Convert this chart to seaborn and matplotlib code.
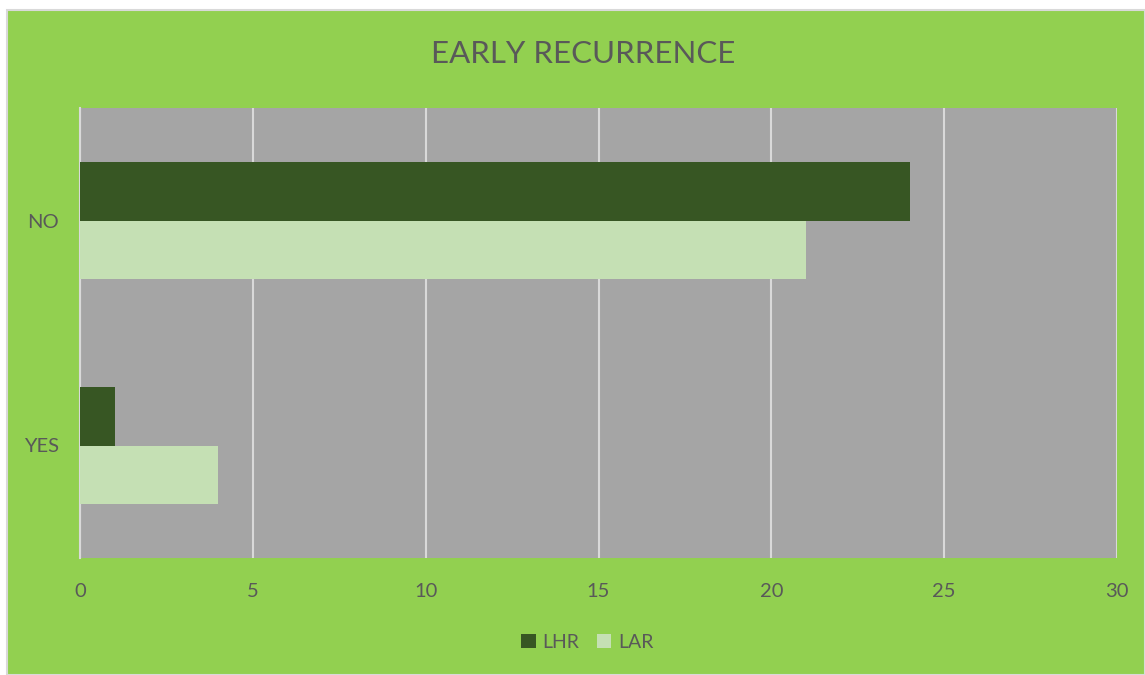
import pandas as pd
import matplotlib.pyplot as plt
import matplotlib.patches as mpatches
import seaborn as sns

# data
answers = ["NO", "YES"]
series = ["LHR", "LAR"]
lhr_counts = [24, 1]
lar_counts = [21, 4]
x_ticks = [0, 5, 10, 15, 20, 25, 30]

df = pd.DataFrame({
    "answer": answers * 2,
    "group": [series[0]] * 2 + [series[1]] * 2,
    "count": lhr_counts + lar_counts,
})

green_bg = "#92D050"
plot_bg = "#A5A5A5"
text_col = "#595959"
palette = {"LHR": "#375623", "LAR": "#C5E0B4"}

sns.set_style("white")
plt.rcParams['font.family'] = ['Lato', 'DejaVu Sans']

fig = plt.figure(figsize=(11.45, 6.75), dpi=100, facecolor="white")
# green chart area with thin grey border, as in the spreadsheet export
fig.patches.append(mpatches.Rectangle((7 / 1145, 0), 1 - 7 / 1145, 1 - 10 / 675,
                                      transform=fig.transFigure, facecolor=green_bg,
                                      edgecolor="#D9D9D9", linewidth=1.5, zorder=-5))

ax = fig.add_axes([80 / 1145, 1 - 558 / 675, (1117 - 80) / 1145, (558 - 108) / 675])
ax.set_facecolor(plot_bg)

sns.barplot(data=df, x="count", y="answer", hue="group", order=answers,
            hue_order=series, palette=palette, width=0.52, orient="h",
            saturation=1, edgecolor="none", ax=ax, zorder=3)

ax.set_xlim(0, 30)
ax.set_xticks(x_ticks)
ax.set_xticklabels([str(t) for t in x_ticks])
ax.grid(axis="x", color="#D9D9D9", linewidth=1.5, zorder=0)
ax.set_axisbelow(True)
ax.set_xlabel("")
ax.set_ylabel("")
for side in ["top", "right", "bottom"]:
    ax.spines[side].set_visible(False)
ax.spines["left"].set_color("#D9D9D9")
ax.spines["left"].set_linewidth(1.5)
ax.tick_params(axis="both", length=0, colors=text_col, labelsize=14.5)
ax.tick_params(axis="x", pad=18)
ax.tick_params(axis="y", pad=15)

fig.text(0.509, 1 - 54 / 675, "EARLY RECURRENCE", ha="center", va="center",
         fontsize=22.5, color=text_col)

handles, labels = ax.get_legend_handles_labels()
ax.legend_.remove()
fig.legend(handles, labels, loc="center", bbox_to_anchor=(0.513, 1 - 642 / 675),
           ncol=2, frameon=False, fontsize=14, labelcolor=text_col,
           handlelength=0.75, handleheight=0.75, handletextpad=0.35, columnspacing=0.9)

plt.savefig("out.png", dpi=100, facecolor=fig.get_facecolor())
